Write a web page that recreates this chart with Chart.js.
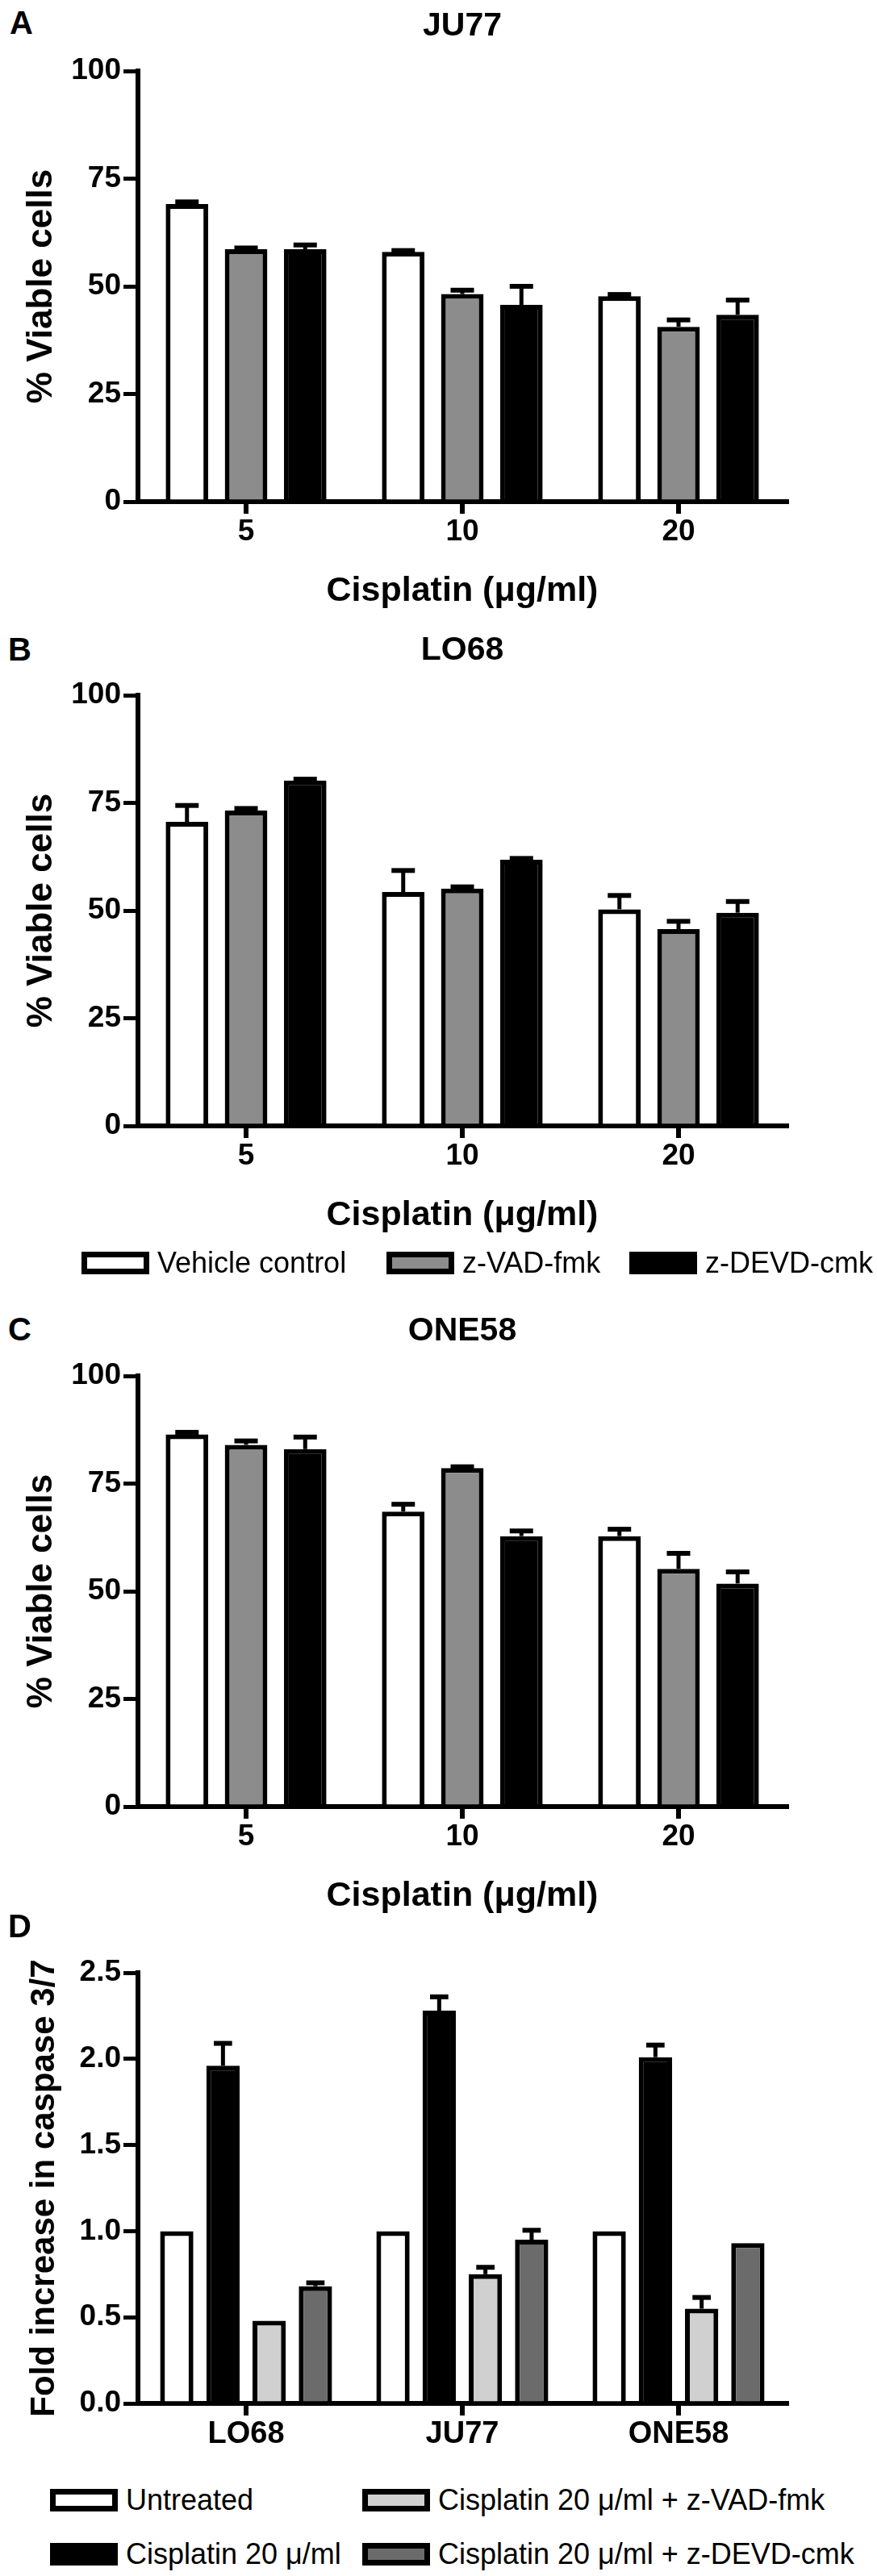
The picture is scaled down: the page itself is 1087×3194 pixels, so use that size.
<!DOCTYPE html>
<html>
<head>
<meta charset="utf-8">
<title>Cisplatin viability and caspase 3/7</title>
<script src="https://cdn.jsdelivr.net/npm/chart.js@4"></script>
<style>
  body { margin: 0; background: #fff; font-family: 'Liberation Sans', Arial, sans-serif; color: #000; }
  #page { position: relative; width: 1087px; height: 3194px; background: #fff; overflow: hidden; }
  .panel { position: absolute; left: 0; width: 1087px; }
  .letter { position: absolute; font-size: 40px; font-weight: bold; line-height: 40px; }
  .lg { position: absolute; display: flex; align-items: center; height: 28px; font-size: 36px; white-space: nowrap; }
  .lg i { display: inline-block; box-sizing: border-box; width: 84px; height: 28px; border: 7px solid #000; margin-right: 10px; }
</style>
</head>
<body>
<div id="page">
  <div class="letter" style="left:12px;top:8px">A</div>
  <div class="panel" style="top:0;height:772px"><canvas id="chartA"></canvas></div>

  <div class="letter" style="left:10px;top:785px">B</div>
  <div class="panel" style="top:774px;height:772px"><canvas id="chartB"></canvas></div>
  <div class="lg" style="left:101px;top:1552px"><i style="background:#fff"></i>Vehicle control</div>
  <div class="lg" style="left:479px;top:1552px"><i style="background:#8c8c8c"></i>z-VAD-fmk</div>
  <div class="lg" style="left:780px;top:1552px"><i style="background:#000"></i>z-DEVD-cmk</div>

  <div class="letter" style="left:10px;top:1628px">C</div>
  <div class="panel" style="top:1618px;height:772px"><canvas id="chartC"></canvas></div>

  <div class="letter" style="left:10px;top:2368px">D</div>
  <div class="panel" style="top:2358px;height:702px"><canvas id="chartD"></canvas></div>
  <div class="lg" style="left:62px;top:3086px"><i style="background:#fff"></i>Untreated</div>
  <div class="lg" style="left:449px;top:3086px"><i style="background:#d0d0d0"></i>Cisplatin 20 μ/ml + z-VAD-fmk</div>
  <div class="lg" style="left:62px;top:3153px"><i style="background:#000"></i>Cisplatin 20 μ/ml</div>
  <div class="lg" style="left:449px;top:3153px"><i style="background:#6b6b6b"></i>Cisplatin 20 μ/ml + z-DEVD-cmk</div>
</div>

<script>
// Data (means and upper SEM per bar)
const doseLabels = ['5', '10', '20'];
const viabilityTicks = [0, 25, 50, 75, 100];

// JU77
const ju77Vehicle = [69.1, 58.0, 47.7];
const ju77Vad = [58.6, 48.2, 40.6];
const ju77Devd = [58.6, 45.7, 43.4];
const ju77VehicleErr = [0.5, 0.3, 0.4];
const ju77VadErr = [0.3, 0.9, 1.6];
const ju77DevdErr = [1.0, 4.3, 3.4];

// LO68
const lo68Vehicle = [70.6, 54.3, 50.3];
const lo68Vad = [73.2, 55.1, 45.7];
const lo68Devd = [80.2, 61.8, 49.5];
const lo68VehicleErr = [3.8, 5.0, 3.2];
const lo68VadErr = [0.5, 0.4, 1.8];
const lo68DevdErr = [0.3, 0.3, 2.6];

// ONE58
const one58Vehicle = [86.4, 68.5, 62.8];
const one58Vad = [84.0, 78.6, 55.2];
const one58Devd = [83.0, 62.8, 51.8];
const one58VehicleErr = [0.5, 1.7, 1.6];
const one58VadErr = [0.9, 0.3, 3.6];
const one58DevdErr = [2.8, 1.2, 2.7];

// Caspase 3/7 panel
const cellLines = ['LO68', 'JU77', 'ONE58'];
const caspaseTicks = [0, 0.5, 1.0, 1.5, 2.0, 2.5];
const untreated = [1.0, 1.0, 1.0];
const cisplatin = [1.96, 2.28, 2.01];
const cisVad = [0.48, 0.75, 0.55];
const cisDevd = [0.68, 0.95, 0.93];
const untreatedErr = [0, 0, 0];
const cisplatinErr = [0.13, 0.08, 0.07];
const cisVadErr = [0, 0.04, 0.065];
const cisDevdErr = [0.02, 0.055, 0];

Chart.defaults.font.family = "'Liberation Sans', Arial, sans-serif";
Chart.defaults.color = '#000';

// upper error bars drawn from the y scale
const errorBars = {
  id: 'errorBars',
  afterDatasetsDraw(chart) {
    const ctx = chart.ctx;
    const y = chart.scales.y;
    ctx.save();
    ctx.strokeStyle = '#000';
    ctx.lineCap = 'butt';
    chart.data.datasets.forEach((ds, di) => {
      if (!ds.errors) return;
      chart.getDatasetMeta(di).data.forEach((bar, i) => {
        const err = ds.errors[i];
        if (!err) return;
        const yBar = y.getPixelForValue(ds.data[i]);
        const yTop = y.getPixelForValue(ds.data[i] + err);
        const capW = bar.width * 0.55;
        ctx.lineWidth = 5;
        ctx.beginPath();
        ctx.moveTo(bar.x, yBar);
        ctx.lineTo(bar.x, yTop);
        ctx.stroke();
        ctx.lineWidth = 6;
        ctx.beginPath();
        ctx.moveTo(bar.x - capW / 2, yTop);
        ctx.lineTo(bar.x + capW / 2, yTop);
        ctx.stroke();
      });
    });
    ctx.restore();
  }
};

const axisGrid = (len, w) => ({display: true, drawOnChartArea: false, drawTicks: true, tickLength: len, tickWidth: w, lineWidth: w, color: '#000', offset: false});
const axisBorder = {display: true, width: 6, color: '#000'};

function yAxis(min, max, ticks, fmt, titleText, titleSize, titlePad) {
  return {
    min: min, max: max,
    afterBuildTicks: s => { s.ticks = ticks.map(v => ({value: v})); },
    afterFit: s => { s.width = 171; },
    grid: axisGrid(18, 5),
    border: axisBorder,
    ticks: {font: {size: 37, weight: 'bold'}, padding: 3, color: '#000', callback: fmt},
    title: {display: true, text: titleText, color: '#000', font: {size: titleSize, weight: 'bold'}, padding: {top: titlePad, bottom: 0}}
  };
}

function viabilityChart(id, title, vehicle, vad, devd, vehicleErr, vadErr, devdErr) {
  const bar = (label, data, errors, color) => ({label: label, data: data, errors: errors, backgroundColor: color, borderColor: '#000', borderWidth: 6, categoryPercentage: 0.82, barPercentage: 0.72});
  new Chart(document.getElementById(id), {
    type: 'bar',
    data: {
      labels: doseLabels,
      datasets: [
        bar('Vehicle control', vehicle, vehicleErr, '#ffffff'),
        bar('z-VAD-fmk', vad, vadErr, '#8c8c8c'),
        bar('z-DEVD-cmk', devd, devdErr, '#000000')
      ]
    },
    options: {
      responsive: true, maintainAspectRatio: false, animation: false,
      layout: {padding: {left: 0, right: 112, top: 0, bottom: 0}},
      plugins: {
        legend: {display: false},
        tooltip: {enabled: false},
        title: {display: true, fullSize: false, text: title, color: '#000', font: {size: 41, weight: 'bold'}, padding: {top: 8.4, bottom: 30.4}}
      },
      scales: {
        x: {
          grid: axisGrid(15, 6),
          border: axisBorder,
          ticks: {font: {size: 37, weight: 'bold'}, padding: 1, color: '#000'},
          title: {display: true, text: 'Cisplatin (μg/ml)', color: '#000', font: {size: 43, weight: 'bold'}, padding: {top: 0, bottom: 13}},
          afterFit: s => { s.height = 150; }
        },
        y: yAxis(0, 100, viabilityTicks, v => String(v), '% Viable cells', 44, 25.6)
      }
    },
    plugins: [errorBars]
  });
}

viabilityChart('chartA', 'JU77', ju77Vehicle, ju77Vad, ju77Devd, ju77VehicleErr, ju77VadErr, ju77DevdErr);
viabilityChart('chartB', 'LO68', lo68Vehicle, lo68Vad, lo68Devd, lo68VehicleErr, lo68VadErr, lo68DevdErr);
viabilityChart('chartC', 'ONE58', one58Vehicle, one58Vad, one58Devd, one58VehicleErr, one58VadErr, one58DevdErr);

// Panel D: fold increase in caspase 3/7
const dBar = (label, data, errors, color) => ({label: label, data: data, errors: errors, backgroundColor: color, borderColor: '#000', borderWidth: 6, categoryPercentage: 0.855, barPercentage: 0.72});
new Chart(document.getElementById('chartD'), {
  type: 'bar',
  data: {
    labels: cellLines,
    datasets: [
      dBar('Untreated', untreated, untreatedErr, '#ffffff'),
      dBar('Cisplatin 20 μ/ml', cisplatin, cisplatinErr, '#000000'),
      dBar('Cisplatin 20 μ/ml + z-VAD-fmk', cisVad, cisVadErr, '#d0d0d0'),
      dBar('Cisplatin 20 μ/ml + z-DEVD-cmk', cisDevd, cisDevdErr, '#6b6b6b')
    ]
  },
  options: {
    responsive: true, maintainAspectRatio: false, animation: false,
    layout: {padding: {left: 0, right: 112, top: 88, bottom: 0}},
    plugins: {legend: {display: false}, tooltip: {enabled: false}},
    scales: {
      x: {
        grid: axisGrid(15, 6),
        border: axisBorder,
        ticks: {font: {size: 38, weight: 'bold'}, padding: 1, color: '#000'},
        afterFit: s => { s.height = 80; }
      },
      y: yAxis(0, 2.5, caspaseTicks, v => Number(v).toFixed(1), 'Fold increase in caspase 3/7', 42, 29.8)
    }
  },
  plugins: [errorBars]
});
</script>
</body>
</html>
